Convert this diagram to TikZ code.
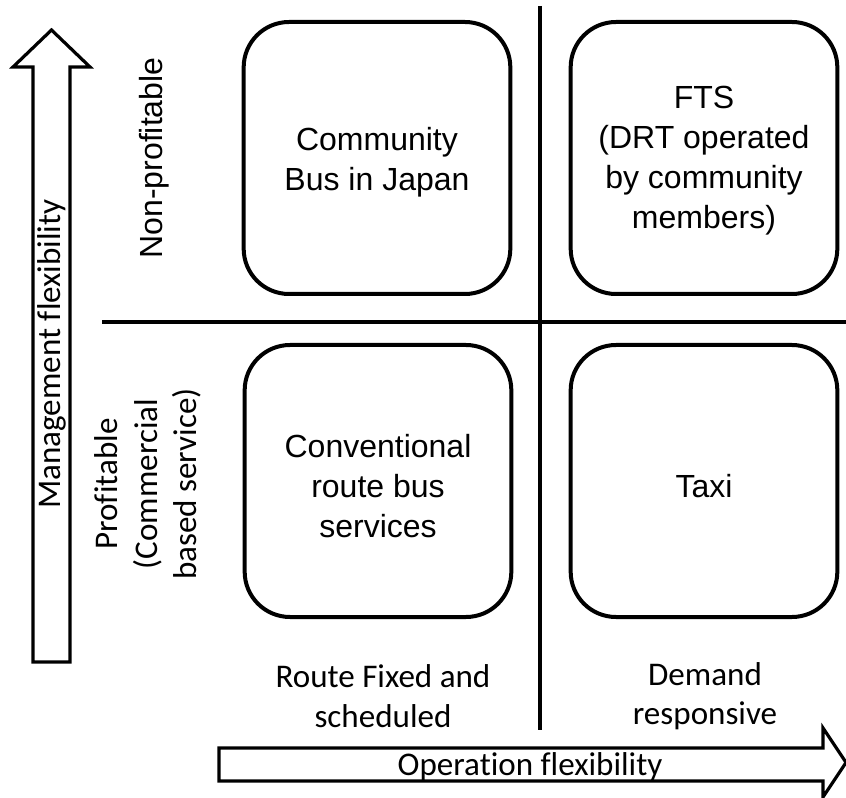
\documentclass[tikz,border=0pt]{standalone}
\usepackage{fontspec}
\setmainfont{Liberation Sans}
\newfontfamily\calfont[Ligatures={NoCommon}]{Carlito}
\begin{document}
\begin{tikzpicture}[x=0.75pt,y=-0.75pt,
  qbox/.style={draw,line width=3pt,rounded corners=34pt,minimum width=200pt,minimum height=204pt,inner sep=0pt},
  boxtxt/.style={align=center,inner sep=0pt,font=\fontsize{24}{30}\selectfont},
  divline/.style={line width=3pt},
  bigarrow/.style={draw,line width=2.4pt,fill=white,line join=miter},
  lbl/.style={font=\calfont\fontsize{24.8}{29.5}\selectfont,align=center,inner sep=0pt}]
\useasboundingbox (0,0) rectangle (846,798);
% dividers
\coordinate (vtop) at (540,6);
\coordinate (vbot) at (540,730);
\coordinate (hl) at (102,322);
\coordinate (hr) at (846,322);
\draw[divline] (vtop) -- (vbot);
\draw[divline] (hl) -- (hr);
% boxes
\node[qbox] (cb) at (377,158) {};
\node[qbox] (fts) at (704,158) {};
\node[qbox] (conv) at (378,481) {};
\node[qbox] (taxi) at (704,481) {};
\node[boxtxt] (cbt) at ([yshift=-3.5pt]cb.center) {Community\\Bus in Japan};
\node[boxtxt] (ftst) at ([yshift=-2pt]fts.center) {FTS\\(DRT operated\\by community\\members)};
\node[boxtxt] (convt) at ([yshift=-3.5pt]conv.center) {Conventional\\route bus\\services};
\node[boxtxt] (taxit) at ([yshift=-3.5pt]taxi.center) {Taxi};
% vertical arrow
\draw[bigarrow] (33,662) -- (33,67) -- (13,67) -- (51.5,30) -- (90,67) -- (70,67) -- (70,662) -- cycle;
\node[lbl,rotate=90] (mf) at (52,354) {Management flexibility};
% horizontal arrow
\draw[bigarrow] (219,748) -- (823,748) -- (823,728) -- (846,762.5) -- (823,797) -- (823,781) -- (219,781) -- cycle;
\node[lbl] (of) at (530,767) {Operation flexibility};
% side labels
\node[rotate=90,anchor=base,inner sep=0pt,font=\fontsize{24}{30}\selectfont] (np) at (162,158) {Non-profitable};
\node[lbl,rotate=90] (pr) at (148,484) {Profitable\\(Commercial\\based service)};
% bottom labels
\node[lbl] (rf) at (383,696) {Route Fixed and\\scheduled};
\node[lbl] (dr) at (705,696) {Demand\\responsive};
\end{tikzpicture}
\end{document}
